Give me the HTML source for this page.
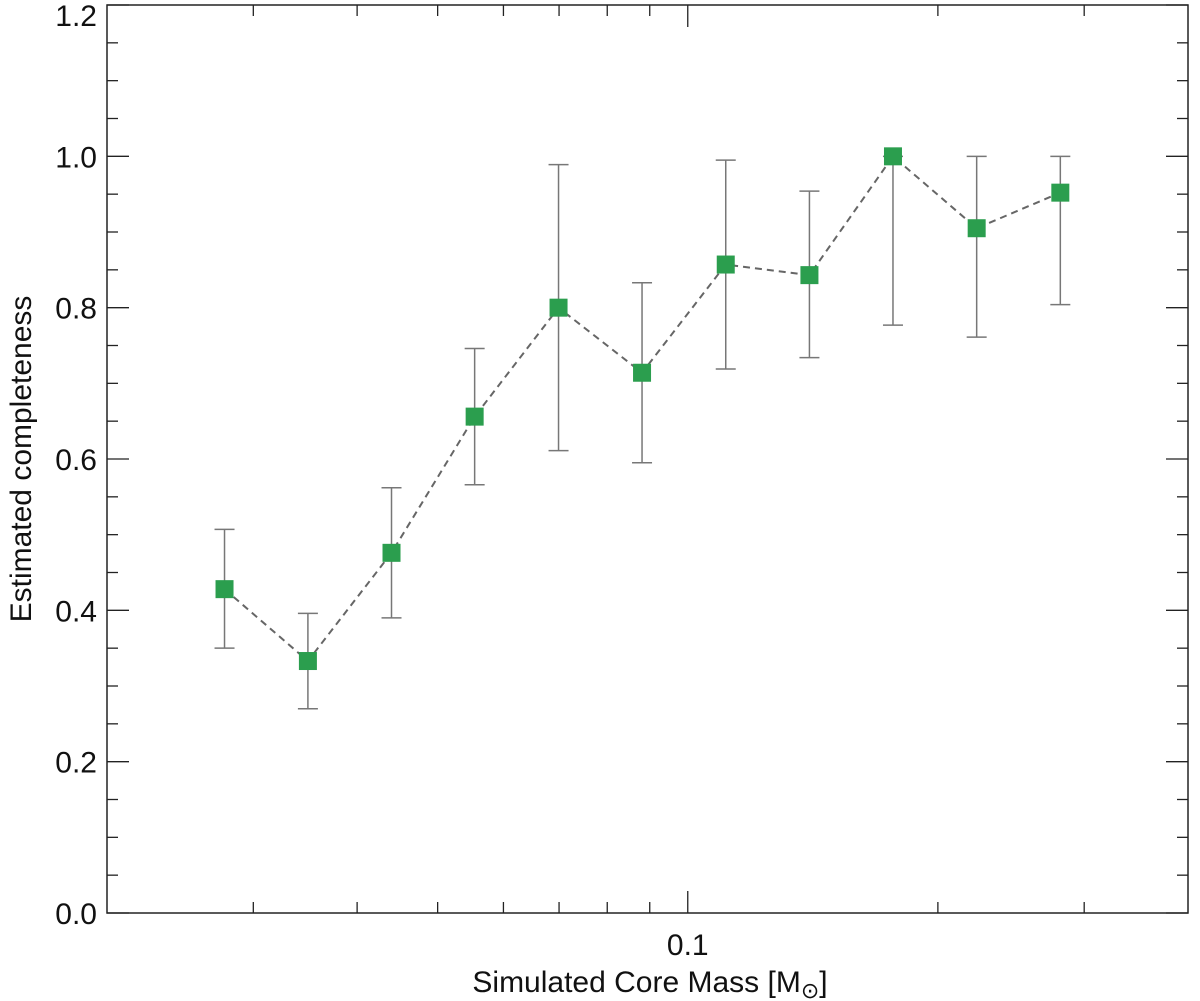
<!DOCTYPE html>
<html><head><meta charset="utf-8"><style>
body{margin:0;background:#fff}
svg{display:block;font-family:"Liberation Sans",sans-serif}
</style></head><body>
<svg id="chart" width="1200" height="1001" viewBox="0 0 1200 1001">
<g id="axes"></g><g id="marks"></g>
</svg>
<script>
const masses=[0.0277,0.0349,0.0440,0.0554,0.0699,0.0881,0.1111,0.1401,0.1766,0.2227,0.2808];
const completeness=[0.428,0.333,0.476,0.656,0.800,0.714,0.857,0.843,1.000,0.905,0.952];
const errUpper=[0.507,0.396,0.562,0.746,0.989,0.833,0.995,0.954,1.000,1.000,1.000];
const errLower=[0.350,0.270,0.390,0.566,0.611,0.595,0.719,0.734,0.777,0.761,0.804];
const yTicks=[0.0,0.2,0.4,0.6,0.8,1.0,1.2];
const xMinorTicks=[0.03,0.04,0.05,0.06,0.07,0.08,0.09,0.2,0.3];
const xMajorTicks=[0.1];

const L=107,R=1188,T=5,B=913,xmin=0.02,xmax=0.4,ymin=0,ymax=1.2;
const sx=v=>L+(Math.log10(v)-Math.log10(xmin))/(Math.log10(xmax)-Math.log10(xmin))*(R-L);
const sy=v=>B-(v-ymin)/(ymax-ymin)*(B-T);
const NS="http://www.w3.org/2000/svg";
function mk(tag,attrs,parent,text){const e=document.createElementNS(NS,tag);for(const k in attrs)e.setAttribute(k,attrs[k]);if(text!==undefined)e.textContent=text;parent.appendChild(e);return e;}
const ax=document.getElementById('axes'),mg=document.getElementById('marks');
let e=mk('rect',{x:L,y:T,width:R-L,height:B-T,fill:'none',stroke:'#222','stroke-width':1.5},ax);


for(let v=0;v<=1.2001;v+=0.05){
  const y=sy(v);const major=Math.abs(v/0.2-Math.round(v/0.2))<1e-6;const len=major?22:11;
  mk('line',{x1:L,x2:L+len,y1:y,y2:y,stroke:'#222','stroke-width':1.3},ax);
  mk('line',{x1:R,x2:R-len,y1:y,y2:y,stroke:'#222','stroke-width':1.3},ax);
}
yTicks.forEach(v=>{
  const y=Math.max(sy(v)+11,26);
  const t=mk('text',{x:97,y:y,'text-anchor':'end','font-size':30,fill:'#111'},ax,v.toFixed(1));
  
  
});
xMinorTicks.forEach(v=>{const x=sx(v);mk('line',{x1:x,x2:x,y1:B,y2:B-11,stroke:'#222','stroke-width':1.3},ax);mk('line',{x1:x,x2:x,y1:T,y2:T+11,stroke:'#222','stroke-width':1.3},ax);});
xMajorTicks.forEach(v=>{const x=sx(v);mk('line',{x1:x,x2:x,y1:B,y2:B-22,stroke:'#222','stroke-width':1.3},ax);mk('line',{x1:x,x2:x,y1:T,y2:T+22,stroke:'#222','stroke-width':1.3},ax);
  const t=mk('text',{x:x,y:955,'text-anchor':'middle','font-size':30,fill:'#111'},ax,String(v));
  
  
});
let xt=mk('text',{x:650,y:992,'text-anchor':'middle','font-size':30,fill:'#111'},ax);


xt.appendChild(document.createTextNode('Simulated Core Mass [M'));
mk('tspan',{'font-size':22,dy:6},xt,'\u2299');
mk('tspan',{dy:-6},xt,']');
let yt=mk('text',{x:0,y:0,'text-anchor':'middle','font-size':30,fill:'#111',transform:'translate(31,459) rotate(-90)'},ax,'Estimated completeness');


masses.forEach((m,i)=>{
  const x=sx(m),y1=sy(errUpper[i]),y2=sy(errLower[i]);
  const g=mk('g',{stroke:'#777','stroke-width':1.5},mg);
  
  
  mk('line',{x1:x,x2:x,y1:y1,y2:y2},g);
  mk('line',{x1:x-10,x2:x+10,y1:y1,y2:y1},g);
  mk('line',{x1:x-10,x2:x+10,y1:y2,y2:y2},g);
});
const pl=mk('polyline',{points:masses.map((m,i)=>sx(m)+','+sy(completeness[i])).join(' '),fill:'none',stroke:'#666','stroke-width':2,'stroke-dasharray':'7,5'},mg);


masses.forEach((m,i)=>{
  const r=mk('rect',{x:sx(m)-9,y:sy(completeness[i])-9,width:18,height:18,fill:'#2b9e4e'},mg);
  
  
});
</script>
</body></html>
